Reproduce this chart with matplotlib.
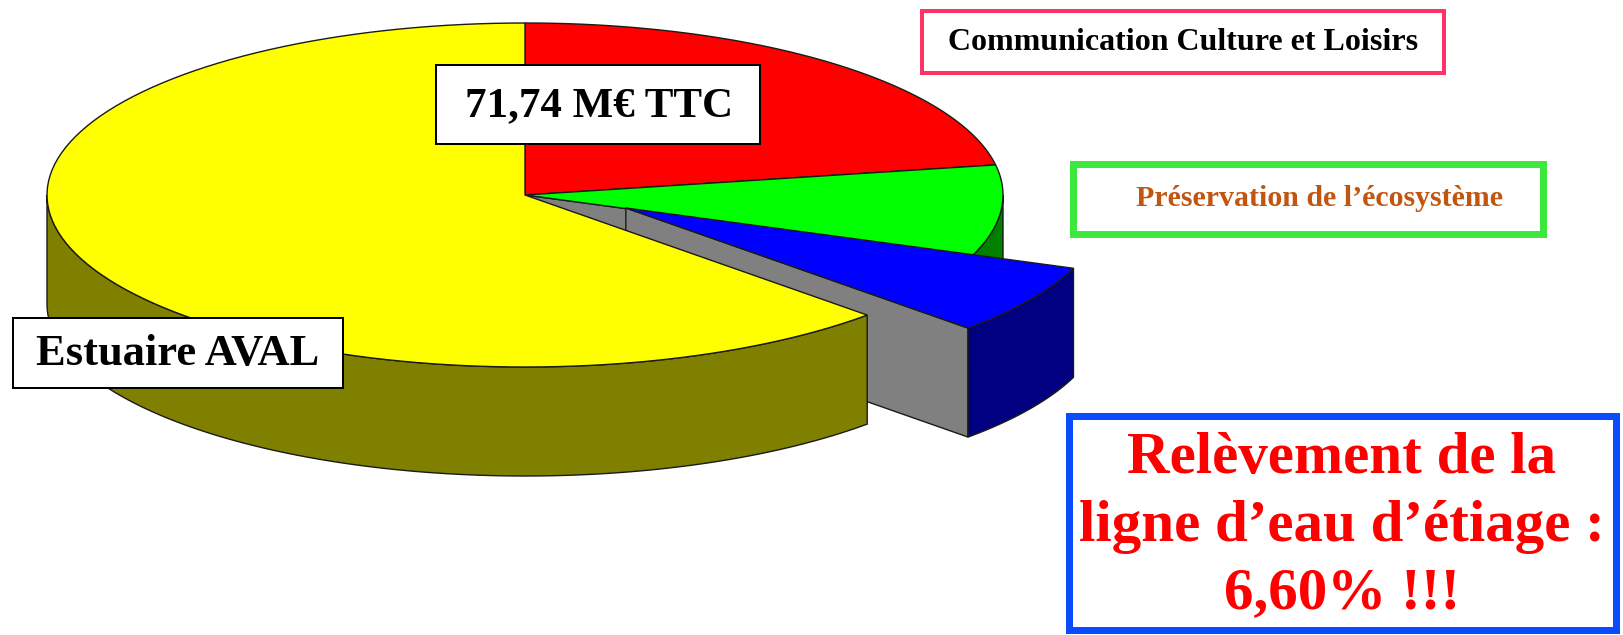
import numpy as np
import matplotlib
matplotlib.use("Agg")
import matplotlib.pyplot as plt
from matplotlib.patches import Polygon, Rectangle

# ---------------- data ----------------
categories = ["Estuaire AVAL",
              "Communication Culture et Loisirs",
              "Préservation de l’écosystème",
              "Relèvement de la ligne d’eau d’étiage"]
shares = [62.7, 22.2, 8.5, 6.6]          # % of total budget
total_label = "71,74 M€ TTC"
highlight_text = "Relèvement de la\nligne d’eau d’étiage :\n6,60% !!!"
pie_order = [1, 2, 3, 0]                 # clockwise from 12 o'clock
exploded = [0.0, 0.0, 0.0, 0.224]

# ---------------- style ----------------
top_colors = ["#FFFF00", "#FF0000", "#00FF00", "#0000FF"]
side_colors = ["#808000", "#800000", "#008000", "#000080"]
cut_color = "#808080"
edge = "#1a1a1a"
CX, CY, A, B, DEPTH = 525, 195, 478, 172, 109
EXPLODE_DIR = -19.7
SERIF = ["Liberation Serif", "DejaVu Serif"]

fig = plt.figure(figsize=(16.24, 6.35), dpi=100)
ax = fig.add_axes([0, 0, 1, 1])
ax.set_xlim(0, 1624)
ax.set_ylim(635, 0)
ax.axis("off")


def pt(r, th, z=0.0, off=(0.0, 0.0)):
    t = np.radians(th)
    return (CX + off[0] + A * r * np.cos(t), CY + off[1] - B * r * np.sin(t) + z)


def arc(t0, t1, z=0.0, off=(0.0, 0.0), n=120):
    ts = np.linspace(t0, t1, n)
    return [pt(1.0, t, z, off) for t in ts]


# compute slice angles (clockwise from 90°)
total = sum(shares)
angles = {}
cur = 90.0
for idx in pie_order:
    span = 360.0 * shares[idx] / total
    angles[idx] = (cur, cur - span)
    cur -= span

n = len(pie_order)
for k, idx in enumerate(pie_order):
    start, end = angles[idx]
    e = exploded[idx]
    off = (A * e * np.cos(np.radians(EXPLODE_DIR)),
           -B * e * np.sin(np.radians(EXPLODE_DIR)))
    prev_idx = pie_order[(k - 1) % n]
    next_idx = pie_order[(k + 1) % n]
    # cut faces
    for th, neigh, vis in ((end, next_idx, np.cos(np.radians(end)) > 1e-6),
                           (start, prev_idx, np.cos(np.radians(start)) < -1e-6)):
        if vis and (e > 0 or exploded[neigh] > 0):
            poly = [pt(0, th, 0, off), pt(1, th, 0, off),
                    pt(1, th, DEPTH, off), pt(0, th, DEPTH, off)]
            ax.add_patch(Polygon(poly, closed=True, facecolor=cut_color,
                                 edgecolor=edge, lw=1.0, zorder=2))
    # outer side (front half only)
    lo, hi = max(end, -180.0), min(start, 0.0)
    if hi > lo:
        poly = arc(hi, lo, 0, off) + arc(lo, hi, DEPTH, off)
        ax.add_patch(Polygon(poly, closed=True, facecolor=side_colors[idx],
                             edgecolor=edge, lw=1.0, zorder=2))
    # top face
    poly = [pt(0, start, 0, off)] + arc(start, end, 0, off)
    ax.add_patch(Polygon(poly, closed=True, facecolor=top_colors[idx],
                         edgecolor=edge, lw=1.0, zorder=2))


def box(x0, y0, x1, y1, color, lw_px):
    h = lw_px / 2.0
    ax.add_patch(Rectangle((x0 + h, y0 + h), x1 - x0 - lw_px, y1 - y0 - lw_px,
                           facecolor="white", edgecolor=color,
                           lw=lw_px * 0.72, zorder=5))


# total label
box(435, 64, 761, 145, "black", 2)
ax.text(599, 106, total_label, ha="center", va="center", fontsize=31,
        fontweight="bold", family=SERIF, color="black", zorder=6)

# Estuaire AVAL
box(12, 317, 344, 389, "black", 2)
ax.text(178, 354, categories[0], ha="center", va="center", fontsize=32,
        fontweight="bold", family=SERIF, color="black", zorder=6)

# Communication
box(920, 9, 1446, 75, "#FF3366", 4)
ax.text(1183, 43, categories[1], ha="center", va="center", fontsize=23,
        fontweight="bold", family=SERIF, color="black", zorder=6)

# Préservation
box(1070, 160, 1547, 237, "#3CE83C", 7)
ax.text(1320, 198, categories[2], ha="center", va="center", fontsize=21.5,
        fontweight="bold", family=SERIF, color="#C0560F", zorder=6)

# highlight box
box(1066, 412, 1620, 633, "#0A4BFF", 7)
ax.text(1342, 527, highlight_text, ha="center", va="center", fontsize=42.5,
        fontweight="bold", family=SERIF, color="#FF0000", linespacing=1.33,
        zorder=6)

fig.savefig("out.png", dpi=100, facecolor="white")
